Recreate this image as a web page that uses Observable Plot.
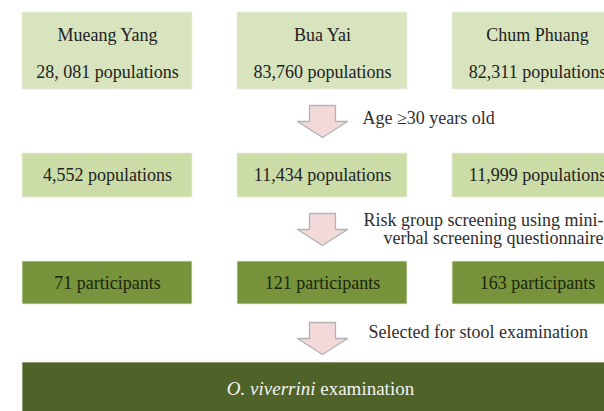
<!DOCTYPE html>
<html>
<head>
<meta charset="utf-8">
<script src="https://cdn.jsdelivr.net/npm/d3@7"></script>
<script src="https://cdn.jsdelivr.net/npm/@observablehq/plot@0.6"></script>
<style>
  html, body { margin: 0; padding: 0; background: #ffffff; }
  #chart svg { display: block; }
</style>
</head>
<body>
<div id="chart"></div>
<script>
// ---- data ----
const districts = ["Mueang Yang", "Bua Yai", "Chum Phuang"];
const totalLabels = ["28, 081", "83,760", "82,311"];
const aged30 = [4552, 11434, 11999];
const participants = [71, 121, 163];
const stepLabels = [
  "Age \u226530 years old",
  "Risk group screening using mini-\nverbal screening questionnaire",
  "Selected for stool examination"
];
const finalLabel = "O. viverrini examination";

// ---- layout ----
const W = 604, H = 411;
const colX0 = 22, colStep = 215, colW = 170;
const rows = [
  {y1: 12, y2: 89, fill: "#d7e4bd"},
  {y1: 153, y2: 197, fill: "#cbdca6"},
  {y1: 261, y2: 304, fill: "#77933c"},
  {y1: 362, y2: 425, fill: "#4f6228"}
];
const arrowTops = [105, 213, 322];
const arrowCx = colX0 + colStep + colW / 2;
const arrowLen = 32, headLen = 16, shaftHalf = 13, headHalf = 25;
const fs = 18;

const boxes = [];
const topLabels = [];
const labels = [];
districts.forEach((d, i) => {
  const x1 = colX0 + i * colStep, x2 = x1 + colW, cx = (x1 + x2) / 2;
  boxes.push({x1, x2, y1: rows[0].y1, y2: rows[0].y2, fill: rows[0].fill});
  topLabels.push({x: cx, y: (rows[0].y1 + rows[0].y2) / 2 - 3, text: `${d}\n${totalLabels[i]} populations`});
  boxes.push({x1, x2, y1: rows[1].y1, y2: rows[1].y2, fill: rows[1].fill});
  labels.push({x: cx, y: (rows[1].y1 + rows[1].y2) / 2, text: `${d3.format(",")(aged30[i])} populations`, fill: "#222222"});
  boxes.push({x1, x2, y1: rows[2].y1, y2: rows[2].y2, fill: rows[2].fill});
  labels.push({x: cx, y: (rows[2].y1 + rows[2].y2) / 2, text: `${participants[i]} participants`, fill: "#1b260a"});
});
const fullX1 = colX0, fullX2 = colX0 + 2 * colStep + colW;
boxes.push({x1: fullX1, x2: fullX2, y1: rows[3].y1, y2: rows[3].y2, fill: rows[3].fill});

const arrowPts = [];
arrowTops.forEach((t, k) => {
  const pts = [
    [arrowCx - shaftHalf, t], [arrowCx + shaftHalf, t],
    [arrowCx + shaftHalf, t + arrowLen - headLen], [arrowCx + headHalf, t + arrowLen - headLen],
    [arrowCx, t + arrowLen], [arrowCx - headHalf, t + arrowLen - headLen],
    [arrowCx - shaftHalf, t + arrowLen - headLen], [arrowCx - shaftHalf, t]
  ];
  pts.forEach(([x, y]) => arrowPts.push({x, y, k}));
});

const stepText = [
  {x: 362, y: arrowTops[0] + 13, text: stepLabels[0], anchor: "start"},
  {x: 603, y: arrowTops[1] + 16, text: stepLabels[1], anchor: "end"},
  {x: 368, y: arrowTops[2] + 10, text: stepLabels[2], anchor: "start"}
];

const font = "Liberation Serif";

const plot = Plot.plot({
  width: W, height: H,
  margin: 0,
  x: {domain: [0, W], range: [0, W], axis: null},
  y: {domain: [0, H], range: [0, H], axis: null},
  style: {background: "#ffffff"},
  marks: [
    Plot.rect(boxes, {x1: "x1", x2: "x2", y1: "y1", y2: "y2", fill: "fill", stroke: "#e9efdc", strokeWidth: 0.8}),
    Plot.line(arrowPts, {x: "x", y: "y", z: "k", fill: "#f3d9da", stroke: "#b3b3b3", strokeWidth: 1.3, curve: "linear"}),
    Plot.text(topLabels, {x: "x", y: "y", text: "text", fill: "#222222", fontSize: fs, lineHeight: 2.05, fontFamily: font}),
    Plot.text(labels, {x: "x", y: "y", text: "text", fill: "fill", fontSize: fs, fontFamily: font}),
    Plot.text(stepText.filter(d => d.anchor === "start"), {x: "x", y: "y", text: "text", textAnchor: "start", fill: "#2e2e2e", fontSize: fs, fontFamily: font}),
    Plot.text(stepText.filter(d => d.anchor === "end"), {x: "x", y: "y", text: "text", textAnchor: "end", fill: "#2e2e2e", fontSize: fs, lineHeight: 1.0, fontFamily: font}),
    Plot.text([finalLabel], {x: (fullX1 + fullX2) / 2 - 2, y: (rows[3].y1 + H) / 2 + 2, text: d => d, fill: "#f2f2f2", fontSize: fs + 1, fontFamily: font, className: "final-label"})
  ]
});
document.getElementById("chart").appendChild(plot);

// italicise the species name within the final label
d3.select(plot).selectAll(".final-label text").each(function () {
  const t = this.textContent;
  const parts = t.split(" ");
  const italic = parts.slice(0, 2).join(" ");
  const rest = " " + parts.slice(2).join(" ");
  this.textContent = "";
  d3.select(this).append("tspan").attr("font-style", "italic").text(italic);
  d3.select(this).append("tspan").text(rest);
});
</script>
</body>
</html>
